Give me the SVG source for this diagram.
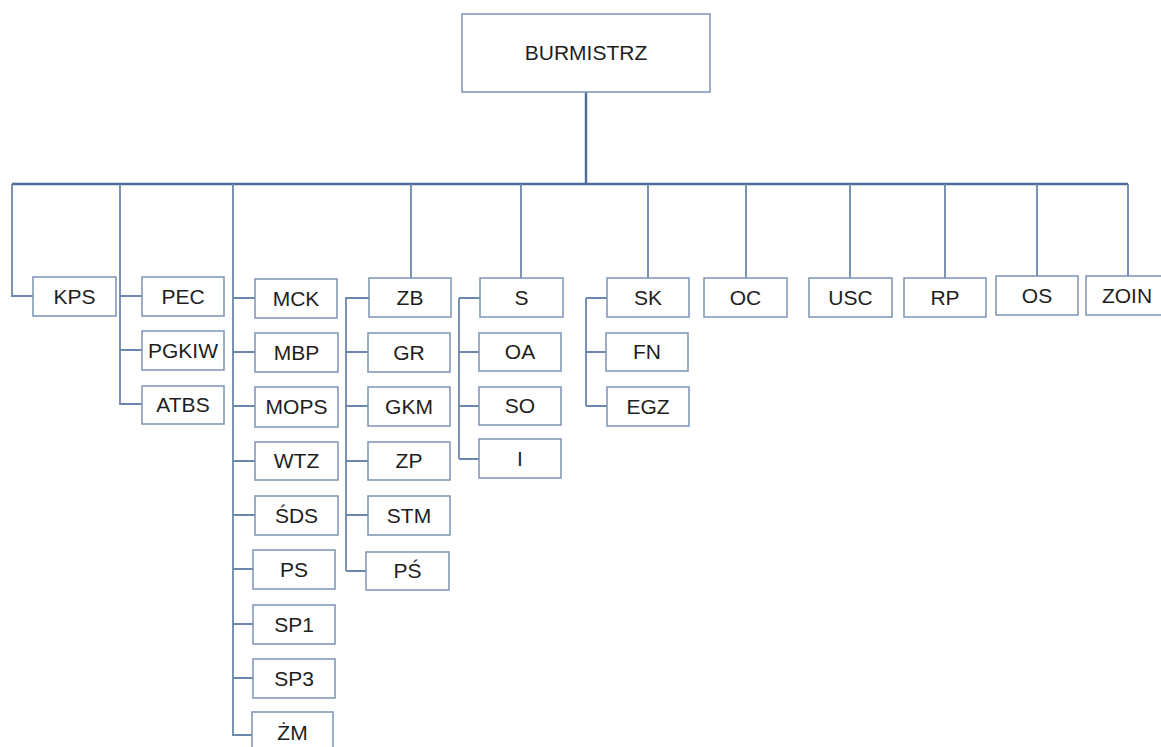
<svg xmlns="http://www.w3.org/2000/svg" width="1161" height="747" viewBox="0 0 1161 747">
<style>
.b{fill:#fff;stroke:#7b93b5;stroke-width:1.5}
.t{font-family:"Liberation Sans",Arial,sans-serif;font-size:21px;fill:#1e1e1e;text-anchor:middle}
.c{fill:none;stroke:#6c87ad;stroke-width:1.8}
.m{fill:none;stroke:#4d6c98;stroke-width:2.4}
</style>
<rect width="1161" height="747" fill="#fff"/>
<g id="connectors">
<path class="m" d="M586 92V184M12 184H1128"/>
<path class="c" d="M12 184V296H33"/>
<path class="c" d="M120 184V404H142M120 296H142M120 350H142"/>
<path class="c" d="M233 184V735H252M233 298H255M233 352H255M233 406H255M233 461H255M233 515H255M233 569H253M233 624H253M233 678H253"/>
<path class="c" d="M411 184V278M346 571V298H369M346 352H368M346 406H368M346 461H368M346 515H368M346 571H366"/>
<path class="c" d="M521 184V278M459 298H480M459 459V298M459 352H479M459 406H479M459 459H479"/>
<path class="c" d="M648 184V278M586 298H607M586 406V298M586 352H606M586 406H607"/>
<path class="c" d="M746 184V278M850 184V278M945 184V278M1037 184V276M1128 184V276"/>
</g>
<g id="n-burmistrz"><rect class="b" x="462" y="14" width="248" height="78"/><text class="t" x="586" y="60">BURMISTRZ</text></g>
<g id="n-kps"><rect class="b" x="33" y="277" width="83" height="39"/><text class="t" x="74.5" y="304">KPS</text></g>
<g id="n-pec"><rect class="b" x="142" y="277" width="82" height="39"/><text class="t" x="183" y="304">PEC</text></g>
<g id="n-pgkiw"><rect class="b" x="142" y="331" width="82" height="39"/><text class="t" x="183" y="358">PGKIW</text></g>
<g id="n-atbs"><rect class="b" x="142" y="386" width="82" height="38"/><text class="t" x="183" y="412">ATBS</text></g>
<g id="n-mck"><rect class="b" x="255" y="279" width="82" height="39"/><text class="t" x="296" y="306">MCK</text></g>
<g id="n-mbp"><rect class="b" x="255" y="333" width="83" height="39"/><text class="t" x="296.5" y="360">MBP</text></g>
<g id="n-mops"><rect class="b" x="255" y="387" width="83" height="40"/><text class="t" x="296.5" y="414">MOPS</text></g>
<g id="n-wtz"><rect class="b" x="255" y="442" width="83" height="38"/><text class="t" x="296.5" y="468">WTZ</text></g>
<g id="n-sds"><rect class="b" x="255" y="496" width="83" height="39"/><text class="t" x="296.5" y="523">ŚDS</text></g>
<g id="n-ps"><rect class="b" x="253" y="550" width="82" height="39"/><text class="t" x="294" y="577">PS</text></g>
<g id="n-sp1"><rect class="b" x="253" y="605" width="82" height="39"/><text class="t" x="294" y="632">SP1</text></g>
<g id="n-sp3"><rect class="b" x="253" y="659" width="82" height="39"/><text class="t" x="294" y="686">SP3</text></g>
<g id="n-zm"><rect class="b" x="252" y="712" width="81" height="45"/><text class="t" x="292.5" y="740">ŻM</text></g>
<g id="n-zb"><rect class="b" x="369" y="278" width="82" height="39"/><text class="t" x="410" y="305">ZB</text></g>
<g id="n-gr"><rect class="b" x="368" y="333" width="82" height="39"/><text class="t" x="409" y="360">GR</text></g>
<g id="n-gkm"><rect class="b" x="368" y="387" width="82" height="39"/><text class="t" x="409" y="414">GKM</text></g>
<g id="n-zp"><rect class="b" x="368" y="442" width="82" height="38"/><text class="t" x="409" y="468">ZP</text></g>
<g id="n-stm"><rect class="b" x="368" y="496" width="82" height="39"/><text class="t" x="409" y="523">STM</text></g>
<g id="n-ps2"><rect class="b" x="366" y="552" width="83" height="38"/><text class="t" x="407.5" y="578">PŚ</text></g>
<g id="n-s"><rect class="b" x="480" y="278" width="83" height="39"/><text class="t" x="521.5" y="305">S</text></g>
<g id="n-oa"><rect class="b" x="479" y="333" width="82" height="38"/><text class="t" x="520" y="359">OA</text></g>
<g id="n-so"><rect class="b" x="479" y="387" width="82" height="38"/><text class="t" x="520" y="413">SO</text></g>
<g id="n-i"><rect class="b" x="479" y="439" width="82" height="39"/><text class="t" x="520" y="466">I</text></g>
<g id="n-sk"><rect class="b" x="607" y="278" width="82" height="39"/><text class="t" x="648" y="305">SK</text></g>
<g id="n-fn"><rect class="b" x="606" y="333" width="82" height="38"/><text class="t" x="647" y="359">FN</text></g>
<g id="n-egz"><rect class="b" x="607" y="387" width="82" height="39"/><text class="t" x="648" y="414">EGZ</text></g>
<g id="n-oc"><rect class="b" x="704" y="278" width="83" height="39"/><text class="t" x="745.5" y="305">OC</text></g>
<g id="n-usc"><rect class="b" x="809" y="278" width="83" height="39"/><text class="t" x="850.5" y="305">USC</text></g>
<g id="n-rp"><rect class="b" x="904" y="278" width="82" height="39"/><text class="t" x="945" y="305">RP</text></g>
<g id="n-os"><rect class="b" x="996" y="276" width="82" height="39"/><text class="t" x="1037" y="303">OS</text></g>
<g id="n-zoin"><rect class="b" x="1086" y="276" width="82" height="39"/><text class="t" x="1127" y="303">ZOIN</text></g>
</svg>
